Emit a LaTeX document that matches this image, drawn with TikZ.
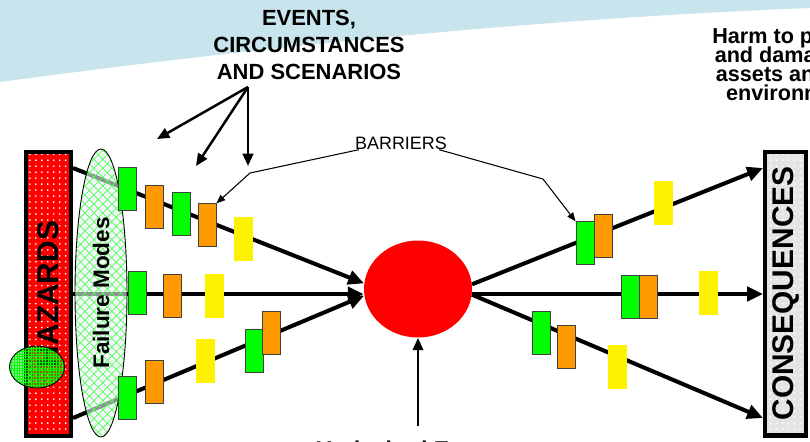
\documentclass[tikz,border=0pt]{standalone}
\usepackage{fontspec}
\setmainfont{Liberation Sans}
\usetikzlibrary{calc, shapes, patterns.meta, arrows.meta}
\definecolor{skyband}{RGB}{200,228,237}
\definecolor{barorange}{RGB}{255,153,0}
\definecolor{palefill}{RGB}{236,241,248}
\definecolor{consgray}{RGB}{228,228,228}

\begin{document}
\begin{tikzpicture}[x=0.02cm, y=-0.02cm,
	gbar/.style={rectangle, draw=black!75, line width=.5pt, fill=green, minimum width=0.36cm, minimum height=0.85cm, inner sep=0},
	obar/.style={gbar, fill=barorange},
	ybar/.style={rectangle, fill=yellow, minimum width=0.38cm, minimum height=0.87cm, inner sep=0},
	flow/.style={line width=2.3pt, -{Triangle[length=9pt, width=8pt]}},
	evarrow/.style={line width=1.4pt, -{Triangle[length=7pt, width=6pt]}},
	bararrow/.style={line width=.6pt, -{Triangle[length=5pt, width=4pt]}},
	sidebox/.style={rectangle, rotate=90, draw=black, line width=2.3pt, minimum width=5.68cm,
	minimum height=0.9cm, inner sep=0, font=\bfseries\fontsize{17}{20}\selectfont}]

	\useasboundingbox (0, 0) rectangle (810, 441);
	\fill [white] (0, 0) rectangle (810, 441);
	\fill [skyband] (0, 0) -- (0, 82) .. controls (200, 55) and (500, 20) .. (810, 8) -- (810, 0) -- cycle;

	\node (Haz) at (48.5, 294) [sidebox, preaction={fill=red},
	pattern={Dots[distance=3.4pt, radius=.55pt]}, pattern color=white] {HAZARDS};
	\node (Cons) at (785.5, 293.5) [sidebox, minimum height=0.82cm, preaction={fill=consgray},
	pattern={Dots[distance=3.4pt, radius=.55pt]}, pattern color=white] {CONSEQUENCES};
	\node (Top) at (418, 289) [ellipse, fill=red, minimum width=2.16cm, minimum height=1.94cm, inner sep=0] {};

	\coordinate (H1) at (Haz.south |- 0, 168);
	\coordinate (H2) at (Haz.south |- 0, 294);
	\coordinate (H3) at (Haz.south |- 0, 418);

	\draw [flow] (H1) -- (Top.174);
	\draw [flow] (H2) -- (H2 -| Top.west);
	\draw [flow] (H3) -- (Top.187);
	\draw [flow] (Top.5) -- (Cons.north |- H1);
	\draw [flow] (Top.east |- H2) -- (Cons.north |- H2);
	\draw [flow] (Top.-6) -- (Cons.north |- H3);

	\node (Fail) at (101, 293) [ellipse, rotate=90, draw=black, line width=.5pt,
	preaction={fill=palefill, fill opacity=.6},
	pattern={Hatch[angle=45, distance=3.6pt, line width=.4pt]}, pattern color=green!70,
	minimum width=5.76cm, minimum height=1.04cm, inner sep=0,
	font=\bfseries\fontsize{12.8}{15}\selectfont] {Failure Modes};

	\node (G1) at (127, 189) [gbar] {};
	\node (O1) at (154, 207) [obar] {};
	\node (G2) at (181, 214) [gbar] {};
	\node (O2) at (207, 225) [obar] {};
	\node (Y1) at (243, 239) [ybar] {};
	\node (G3) at (137, 293) [gbar] {};
	\node (O3) at (172, 296) [obar] {};
	\node (Y2) at (214, 296) [ybar] {};
	\node (G4) at (127, 398) [gbar] {};
	\node (O4) at (154, 382) [obar] {};
	\node (Y3) at (205, 361) [ybar] {};
	\node (G5) at (254, 351) [gbar] {};
	\node (O5) at (271, 333) [obar] {};

	\node (G6) at (585, 243) [gbar] {};
	\node (O6) at (603, 236) [obar] {};
	\node (Y4) at (663, 203) [ybar] {};
	\node (G7) at (630, 297) [gbar] {};
	\node (O7) at (648, 297) [obar] {};
	\node (Y5) at (708, 293) [ybar] {};
	\node (G8) at (541, 333) [gbar] {};
	\node (O8) at (566, 347) [obar] {};
	\node (Y6) at (617, 367) [ybar] {};

	\node (Blob) at (37, 367) [ellipse, draw=black, line width=.5pt, minimum width=1.1cm, minimum height=0.84cm,
	preaction={fill=green!80!black, fill opacity=.45},
	pattern={Hatch[angle=0, distance=1.6pt, line width=.3pt]}, pattern color=green] {};

	\node (Ev) at (309, 10) [anchor=north, align=center, inner sep=0,
	font=\bfseries\fontsize{12.5}{15.3}\selectfont] {EVENTS,\\CIRCUMSTANCES\\AND SCENARIOS};
	\coordinate (EvA) at (248, 87);
	\coordinate (E1) at (157, 139);
	\coordinate (E2) at (196, 166);
	\coordinate (E3) at (248, 166);
	\draw [evarrow] (EvA) -- (E1);
	\draw [evarrow] (EvA) -- (E2);
	\draw [evarrow] (EvA) -- (E3);

	\node (Bar) at (401, 143) [inner sep=0, font=\fontsize{10.2}{12}\selectfont] {BARRIERS};
	\coordinate (BL) at (250, 173);
	\coordinate (BR) at (543, 179);
	\draw [bararrow] ($(Bar.south west)+(4, 0)$) -- (BL) -- (O2.north east);
	\draw [bararrow] ($(Bar.south east)+(-8, 0)$) -- (BR) -- (G6.north west);

	\node (Harm) at (791, 27) [anchor=north, align=center, inner sep=0,
	font=\bfseries\fontsize{12.3}{11}\selectfont]
	{Harm to people\\[-1.6pt]and damage to\\[-1.6pt]assets and the\\environment};

	\coordinate (U0) at (Top.south |- 0, 426);
	\draw [line width=1.2pt, -{Triangle[length=7pt, width=6pt]}] (U0) -- (Top.south);
	\node (Und) at (406, 457) [anchor=base, inner sep=0, font=\bfseries\fontsize{13}{15}\selectfont] {Undesired Event};
\end{tikzpicture}
\end{document}
